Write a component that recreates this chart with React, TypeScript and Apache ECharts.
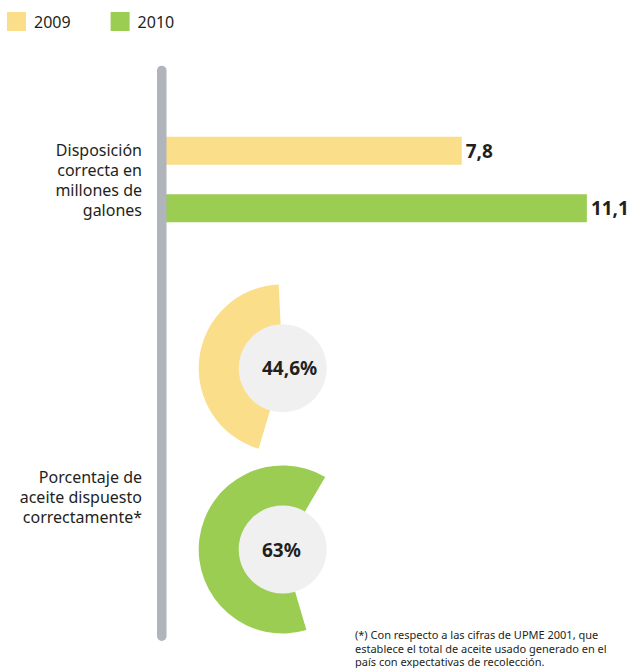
import React, { useEffect, useRef } from "react";
import * as echarts from "echarts";

const categories = ["Disposición\ncorrecta en\nmillones de\ngalones"];
const seriesNames = ["2009", "2010"];
const gallons = [7.8, 11.1];
const percentages = [44.6, 63];
const pctLabel = "Porcentaje de\naceite dispuesto\ncorrectamente*";
const footnote =
  "(*) Con respecto a las cifras de UPME 2001, que\nestablece el total de aceite usado generado en el\npaís con expectativas de recolección.";

const COLORS = ["#fade8a", "#9ccd53"];
const FONT = "Noto Sans";
const TEXT = "#231f20";

const fmt = (v: number) => String(v).replace(".", ",");

export default function App() {
  const ref = useRef<HTMLDivElement>(null);
  useEffect(() => {
    document.body.style.margin = "0";
    const chart = echarts.init(ref.current!, null, { renderer: "svg" });
    const pieCenters = [
      [282.7, 368.3],
      [282.7, 549.5],
    ];
    const pieSpan = percentages.map((p) => (p / 100) * 360);
    const mid = 173;
    const option: any = {
      animation: false,
      textStyle: { fontFamily: FONT },
      legend: {
        data: seriesNames,
        left: 7,
        top: 12,
        padding: 0,
        itemWidth: 19,
        itemHeight: 19,
        itemGap: 40,
        icon: "rect",
        textStyle: { fontSize: 16, color: TEXT, fontFamily: FONT, padding: [0, 0, 0, 3] },
        selectedMode: false,
      },
      grid: { left: 166, top: 122, width: 455, height: 115 },
      xAxis: { type: "value", min: 0, max: 12, show: false },
      yAxis: {
        type: "category",
        data: categories,
        inverse: true,
        axisLine: { show: false },
        axisTick: { show: false },
        axisLabel: {
          margin: 24,
          fontSize: 16,
          lineHeight: 20,
          color: TEXT,
          fontFamily: FONT,
          align: "right",
        },
      },
      series: [
        ...seriesNames.map((name, i) => ({
          name,
          type: "bar",
          data: [gallons[i]],
          barWidth: 28,
          barGap: "105%",
          itemStyle: { color: COLORS[i] },
          label: {
            show: true,
            position: "right",
            distance: 4,
            fontSize: 19,
            fontWeight: "bold",
            color: TEXT,
            fontFamily: FONT,
            formatter: (p: any) => fmt(p.value),
          },
        })),
        ...percentages.map((p, i) => ({
          name: "pct" + seriesNames[i],
          type: "pie",
          center: pieCenters[i],
          radius: [0, 84],
          startAngle: mid + pieSpan[i] / 2,
          clockwise: true,
          silent: true,
          label: { show: false },
          labelLine: { show: false },
          itemStyle: { borderWidth: 0 },
          data: [
            { name: seriesNames[i] + "a", value: p, itemStyle: { color: COLORS[i] } },
            { name: seriesNames[i] + "b", value: 100 - p, itemStyle: { color: "rgba(0,0,0,0)" } },
          ],
        })),
        ...percentages.map((p, i) => ({
          name: "circle" + seriesNames[i],
          type: "pie",
          center: pieCenters[i],
          radius: [0, 44],
          silent: true,
          z: 5,
          label: { show: false },
          labelLine: { show: false },
          itemStyle: { borderWidth: 0, color: "#f0f0f0" },
          data: [{ name: "c" + i, value: 1 }],
        })),
      ],
      graphic: [
        {
          type: "rect",
          z: 100,
          shape: { x: 157, y: 65.7, width: 9.5, height: 575.3, r: 4.75 },
          style: { fill: "#b0b4bb" },
        },
        ...percentages.map((p, i) => ({
          type: "text",
          z: 100,
          x: 262,
          y: pieCenters[i][1],
          style: {
            text: fmt(p) + "%",
            fontSize: 19,
            fontWeight: "bold",
            fontFamily: FONT,
            fill: TEXT,
            textAlign: "left",
            textVerticalAlign: "middle",
          },
        })),
        {
          type: "text",
          z: 100,
          x: 142,
          y: 467,
          style: {
            text: pctLabel,
            fontSize: 16,
            lineHeight: 20,
            fontFamily: FONT,
            fill: TEXT,
            textAlign: "right",
            textVerticalAlign: "top",
          },
        },
        {
          type: "text",
          z: 100,
          x: 355,
          y: 628,
          style: {
            text: footnote,
            fontSize: 11,
            lineHeight: 13.5,
            fontFamily: FONT,
            fill: TEXT,
            textAlign: "left",
            textVerticalAlign: "top",
          },
        },
      ],
    };
    chart.setOption(option);
    return () => chart.dispose();
  }, []);
  return (
    <div
      ref={ref}
      style={{ position: "absolute", left: 0, top: 0, width: 628, height: 668 }}
    />
  );
}
